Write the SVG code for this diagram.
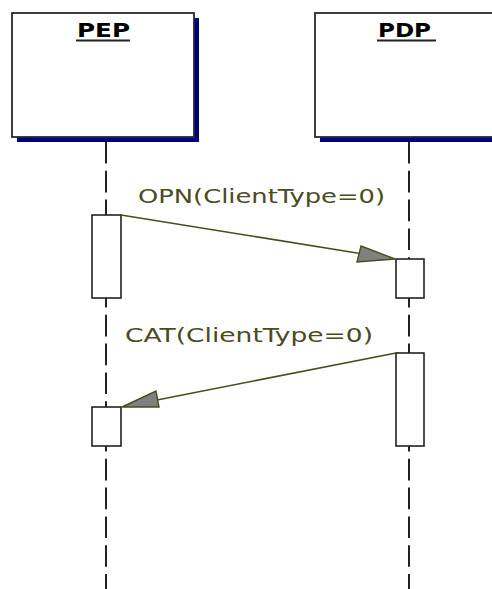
<svg xmlns="http://www.w3.org/2000/svg" width="492" height="589" viewBox="0 0 492 589">
<style>
.shadow{fill:#000080}
.box{fill:#fff;stroke:#2a2a2a;stroke-width:1.8}
.title{font-family:"DejaVu Sans",Verdana,sans-serif;font-weight:bold;font-size:20px;fill:#000}
.uline{stroke:#222;stroke-width:2}
.life{stroke:#222;stroke-width:2;stroke-dasharray:21.6 7.2;fill:none}
.act{fill:#fff;stroke:#222;stroke-width:1.6}
.msg{stroke:#4b4b22;stroke-width:1.6;fill:none}
.head{fill:#808080;stroke:#4b4b22;stroke-width:1.4;stroke-linejoin:miter}
.label{font-family:"DejaVu Sans",Verdana,sans-serif;font-size:19px;fill:#4b4b22}
</style>
<rect width="492" height="589" fill="#fff"/>
<g id="lifelines">
<line class="life" x1="106" y1="142" x2="106" y2="589"/>
<line class="life" x1="409" y1="142" x2="409" y2="589"/>
</g>
<g id="PEP">
<rect class="shadow" x="17" y="18" width="182" height="124"/>
<rect class="box" x="12" y="13" width="182" height="124"/>
<text class="title" x="77" y="37" textLength="53" lengthAdjust="spacingAndGlyphs">PEP</text>
<line class="uline" x1="76" y1="40.5" x2="130" y2="40.5"/>
</g>
<g id="PDP">
<rect class="shadow" x="320" y="18" width="182" height="124"/>
<rect class="box" x="315" y="13" width="182" height="124"/>
<text class="title" x="378" y="37" textLength="53" lengthAdjust="spacingAndGlyphs">PDP</text>
<line class="uline" x1="377" y1="40.5" x2="436" y2="40.5"/>
</g>
<g id="activations">
<rect class="act" x="92" y="215" width="29" height="83"/>
<rect class="act" x="396" y="259" width="28" height="39"/>
<rect class="act" x="396" y="353" width="28" height="93"/>
<rect class="act" x="92" y="407" width="29" height="39"/>
</g>
<g id="connectors">
<g id="msg-opn">
<line class="msg" x1="121" y1="215" x2="360" y2="253.5"/>
<polygon class="head" points="395,259 361,246 357,262"/>
<text class="label" x="138" y="203" textLength="247" lengthAdjust="spacingAndGlyphs">OPN(ClientType=0)</text>
</g>
<g id="msg-cat">
<line class="msg" x1="396" y1="353" x2="157" y2="400"/>
<polygon class="head" points="122,407 156,391 159,407"/>
<text class="label" x="125" y="342" textLength="248" lengthAdjust="spacingAndGlyphs">CAT(ClientType=0)</text>
</g>
</g>
</svg>
